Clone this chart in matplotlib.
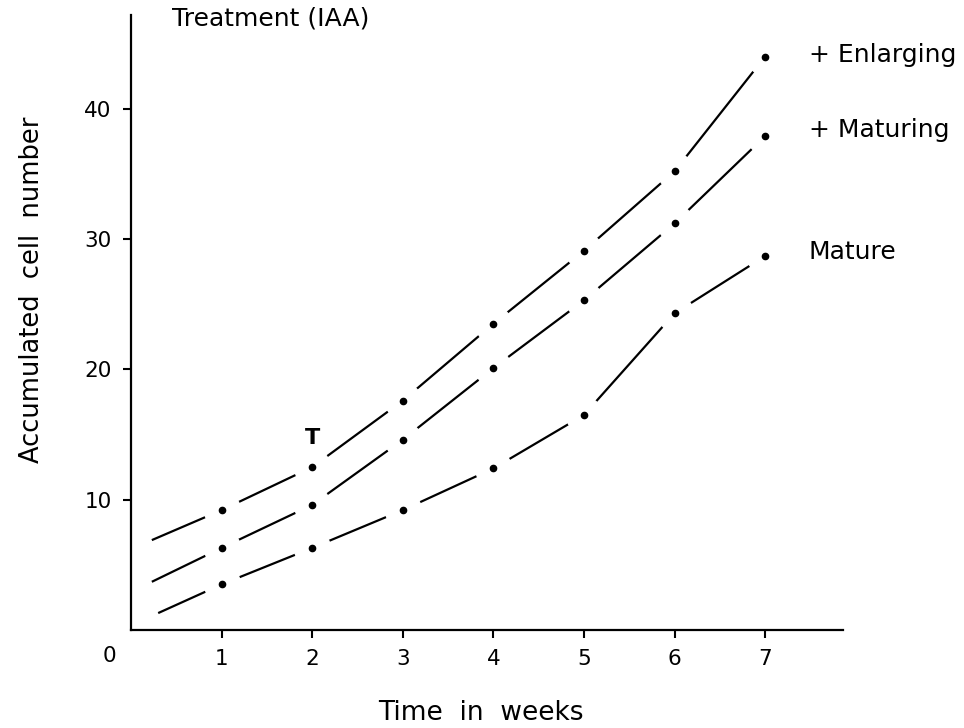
import matplotlib
matplotlib.use("Agg")
import matplotlib.pyplot as plt

# Data
weeks = [1, 2, 3, 4, 5, 6, 7]
enlarging = [9.2, 12.5, 17.6, 23.5, 29.1, 35.2, 44.0]
maturing = [6.3, 9.6, 14.6, 20.1, 25.3, 31.2, 37.9]
mature = [3.5, 6.3, 9.2, 12.4, 16.5, 24.3, 28.7]

# where each curve begins (no dot there)
start_x = [0.23, 0.23, 0.30]
start_y = [6.9, 3.7, 1.3]

series = [enlarging, maturing, mature]
labels = ["+ Enlarging", "+ Maturing", "Mature"]
label_y = [44.1, 38.4, 29.0]

fig = plt.figure(figsize=(9.64, 7.28), dpi=100)
ax = fig.add_axes([0.1359, 0.1346, 0.7386, 0.8448])

for sx, sy, ys, lab, ly in zip(start_x, start_y, series, labels, label_y):
    xs = [sx] + weeks
    yv = [sy] + ys
    ax.plot(xs, yv, color="black", lw=1.6, zorder=1, solid_capstyle="butt")
    # white halo gives the broken-line look around each point
    ax.plot(weeks, ys, ls="none", marker="o", ms=26, mfc="white", mec="white", zorder=2)
    ax.plot(weeks, ys, ls="none", marker="o", ms=4.5, color="black", zorder=3)
    ax.text(7.48, ly, lab, fontsize=18, va="center", ha="left", clip_on=False)

# treatment mark at week 2
ax.text(2, 14.7, "T", fontsize=16, fontweight="bold", ha="center", va="center")
ax.text(0.45, 46.9, "Treatment (IAA)", fontsize=18, ha="left", va="center", clip_on=False)

ax.set_xlim(0, 7.86)
ax.set_ylim(0, 47.2)
ax.set_xticks(weeks)
ax.set_yticks([10, 20, 30, 40])
ax.tick_params(direction="out", length=6, width=1.5, labelsize=15.5, pad=8)
ax.text(-0.24, -2.0, "0", fontsize=15.5, ha="center", va="center", clip_on=False)

for s in ["top", "right"]:
    ax.spines[s].set_visible(False)
for s in ["left", "bottom"]:
    ax.spines[s].set_linewidth(1.6)

ax.set_xlabel("Time  in  weeks", fontsize=19)
ax.set_ylabel("Accumulated  cell  number", fontsize=18.5)
ax.xaxis.set_label_coords(0.4916, -0.114)
ax.yaxis.set_label_coords(-0.121, 0.553)

fig.savefig("out.png", dpi=100)
